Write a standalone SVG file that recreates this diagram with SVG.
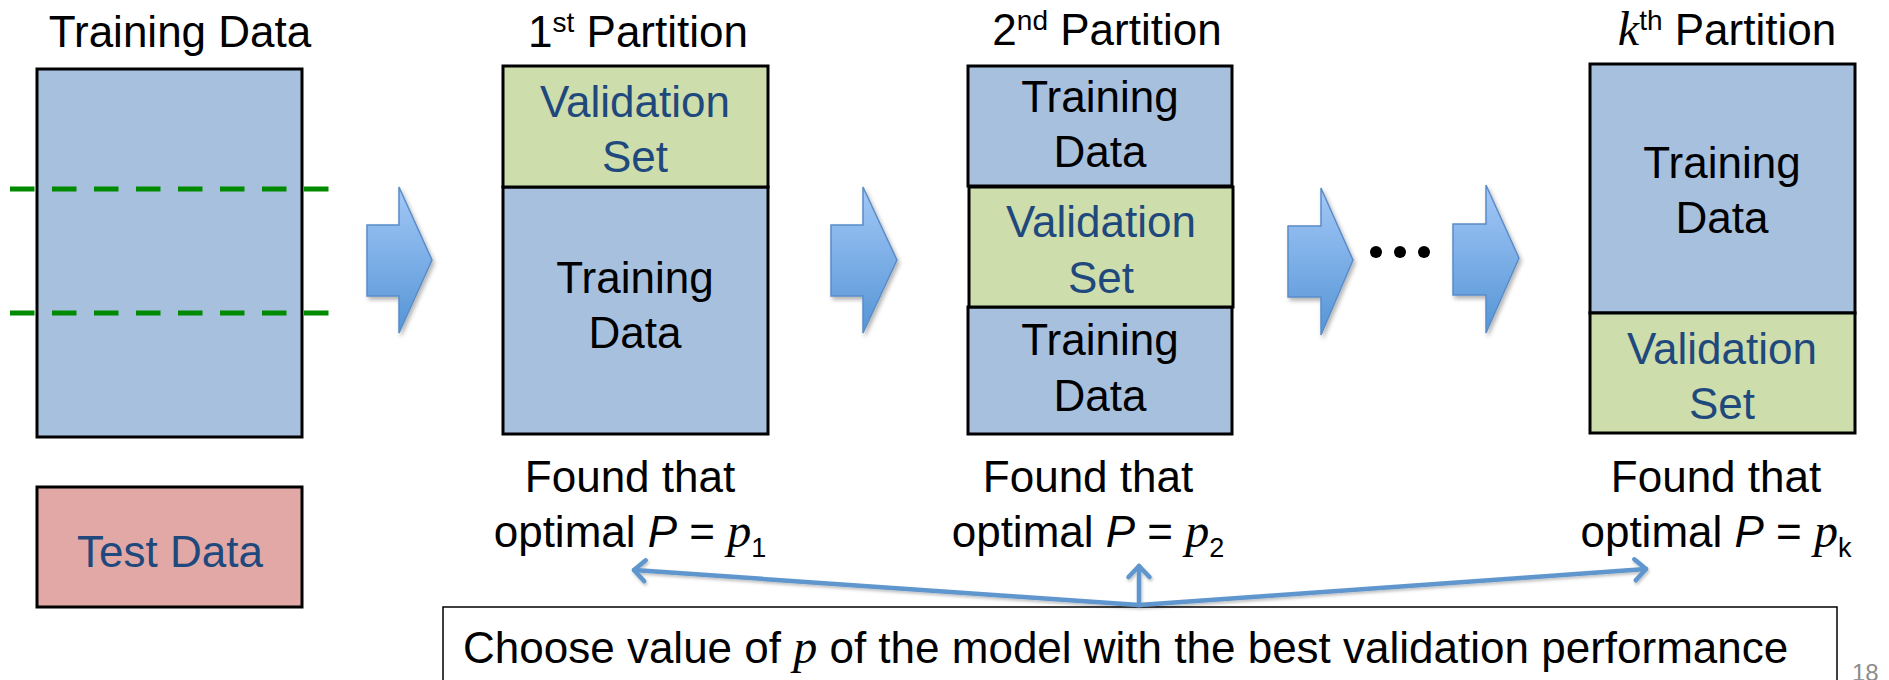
<svg xmlns="http://www.w3.org/2000/svg" width="1889" height="680" viewBox="0 0 1889 680">
  <style>
    .t { font-family: "Liberation Sans", Arial, sans-serif; font-size: 44px; fill: #000; }
    .v { font-family: "Liberation Sans", Arial, sans-serif; font-size: 44px; fill: #1F497D; }
    .m { font-family: "Liberation Serif", "Times New Roman", serif; font-style: italic; font-size: 48px; }
    .blue { fill: #A7C0DE; stroke: #000; stroke-width: 3; }
    .green { fill: #CDDDAC; stroke: #000; stroke-width: 3; }
    .pink { fill: #E1A8A6; stroke: #000; stroke-width: 3; }
    .dash { stroke: #008A00; stroke-width: 5; stroke-dasharray: 24.5 17.5; fill: none; }
    .chev { fill: url(#arrowGrad); stroke: #5A8CC8; stroke-width: 1.5; filter: url(#shadow); }
    .conn { stroke: #6096CE; stroke-width: 4.5; fill: none; stroke-linecap: round; }
  </style>
  <defs>
    <linearGradient id="arrowGrad" x1="0" y1="0" x2="0" y2="1">
      <stop offset="0" stop-color="#A3C8F7"/>
      <stop offset="1" stop-color="#5595D6"/>
    </linearGradient>
    <filter id="shadow" x="-30%" y="-30%" width="160%" height="160%">
      <feDropShadow dx="2" dy="3" stdDeviation="2" flood-color="#000" flood-opacity="0.3"/>
    </filter>
    <filter id="lshadow" filterUnits="userSpaceOnUse" x="0" y="0" width="1889" height="680">
      <feDropShadow dx="1" dy="2" stdDeviation="1.5" flood-color="#000" flood-opacity="0.25"/>
    </filter>
    <marker id="head" markerUnits="userSpaceOnUse" viewBox="0 0 24 24" refX="20" refY="12" markerWidth="24" markerHeight="24" orient="auto" overflow="visible">
      <path d="M 9,1.5 L 20,12 L 9,22.5" fill="none" stroke="#6096CE" stroke-width="4.5" stroke-linecap="round" stroke-linejoin="round"/>
    </marker>
  </defs>

  <rect width="1889" height="680" fill="#FFFFFF"/>

  <!-- Training data + test data -->
  <g id="training-data">
    <text class="t" x="180" y="47" text-anchor="middle">Training Data</text>
    <rect class="blue" x="37" y="69" width="265" height="368"/>
    <line class="dash" x1="10" y1="189" x2="330" y2="189"/>
    <line class="dash" x1="10" y1="313" x2="330" y2="313"/>
  </g>
  <g id="test-data">
    <rect class="pink" x="37" y="487" width="265" height="120"/>
    <text class="v" x="170" y="567" text-anchor="middle">Test Data</text>
  </g>

  <!-- Block arrows -->
  <g id="arrow1"><polygon class="chev" points="367,225 399,225 399,187 432,260 399,333 399,296 367,296"/></g>
  <g id="arrow2"><polygon class="chev" points="831,225 863,225 863,187 897,260 863,333 863,296 831,296"/></g>
  <g id="arrow3"><polygon class="chev" points="1288,226 1321,226 1321,188 1353,260 1321,335 1321,297 1288,297"/></g>
  <g id="arrow4"><polygon class="chev" points="1453,224 1486,224 1486,185 1519,258 1486,333 1486,295 1453,295"/></g>
  <g id="ellipsis">
    <circle cx="1376" cy="252" r="6"/>
    <circle cx="1400" cy="252" r="6"/>
    <circle cx="1424" cy="252" r="6"/>
  </g>

  <!-- 1st partition -->
  <g id="partition1">
    <text class="t" x="638" y="47" text-anchor="middle">1<tspan font-size="28" dy="-15">st</tspan><tspan dy="15"> Partition</tspan></text>
    <rect class="blue" x="503" y="187" width="265" height="247"/>
    <rect class="green" x="503" y="66" width="265" height="121"/>
    <text class="v" x="635" y="117" text-anchor="middle">Validation</text>
    <text class="v" x="635" y="172" text-anchor="middle">Set</text>
    <text class="t" x="635" y="293" text-anchor="middle">Training</text>
    <text class="t" x="635" y="348" text-anchor="middle">Data</text>
    <text class="t" x="630" y="492" text-anchor="middle">Found that</text>
    <text class="t" x="630" y="547" text-anchor="middle">optimal <tspan font-style="italic">P</tspan> = <tspan class="m">p</tspan><tspan font-size="27" dy="10">1</tspan></text>
  </g>

  <!-- 2nd partition -->
  <g id="partition2">
    <text class="t" x="1107" y="45" text-anchor="middle">2<tspan font-size="28" dy="-15">nd</tspan><tspan dy="15"> Partition</tspan></text>
    <rect class="blue" x="968" y="66" width="264" height="120"/>
    <rect class="blue" x="968" y="307" width="264" height="127"/>
    <rect class="green" x="969" y="187" width="264" height="120"/>
    <text class="t" x="1100" y="112" text-anchor="middle">Training</text>
    <text class="t" x="1100" y="167" text-anchor="middle">Data</text>
    <text class="v" x="1101" y="237" text-anchor="middle">Validation</text>
    <text class="v" x="1101" y="293" text-anchor="middle">Set</text>
    <text class="t" x="1100" y="355" text-anchor="middle">Training</text>
    <text class="t" x="1100" y="411" text-anchor="middle">Data</text>
    <text class="t" x="1088" y="492" text-anchor="middle">Found that</text>
    <text class="t" x="1088" y="547" text-anchor="middle">optimal <tspan font-style="italic">P</tspan> = <tspan class="m">p</tspan><tspan font-size="27" dy="10">2</tspan></text>
  </g>

  <!-- kth partition -->
  <g id="partitionk">
    <text class="t" x="1727" y="45" text-anchor="middle"><tspan class="m">k</tspan><tspan font-size="28" dy="-15">th</tspan><tspan dy="15"> Partition</tspan></text>
    <rect class="blue" x="1590" y="64" width="265" height="249"/>
    <rect class="green" x="1590" y="313" width="265" height="120"/>
    <text class="t" x="1722" y="178" text-anchor="middle">Training</text>
    <text class="t" x="1722" y="233" text-anchor="middle">Data</text>
    <text class="v" x="1722" y="364" text-anchor="middle">Validation</text>
    <text class="v" x="1722" y="419" text-anchor="middle">Set</text>
    <text class="t" x="1716" y="492" text-anchor="middle">Found that</text>
    <text class="t" x="1716" y="547" text-anchor="middle">optimal <tspan font-style="italic">P</tspan> = <tspan class="m">p</tspan><tspan font-size="27" dy="10">k</tspan></text>
  </g>

  <!-- Bottom choice box -->
  <g id="choice">
    <rect x="443" y="607" width="1394" height="90" fill="#FFFFFF" stroke="#000" stroke-width="1.5"/>
    <text class="t" x="463" y="663">Choose value of <tspan class="m">p</tspan> of the model with the best validation performance</text>
  </g>

  <!-- Connectors -->
  <g id="connectors" filter="url(#lshadow)">
    <line class="conn" x1="1139" y1="605" x2="634" y2="570" marker-end="url(#head)"/>
    <line class="conn" x1="1139" y1="605" x2="1139" y2="566" marker-end="url(#head)"/>
    <line class="conn" x1="1139" y1="605" x2="1646" y2="569" marker-end="url(#head)"/>
  </g>

  <text x="1852" y="681" font-family="Liberation Sans, Arial, sans-serif" font-size="24" fill="#8C8C8C">18</text>
</svg>
